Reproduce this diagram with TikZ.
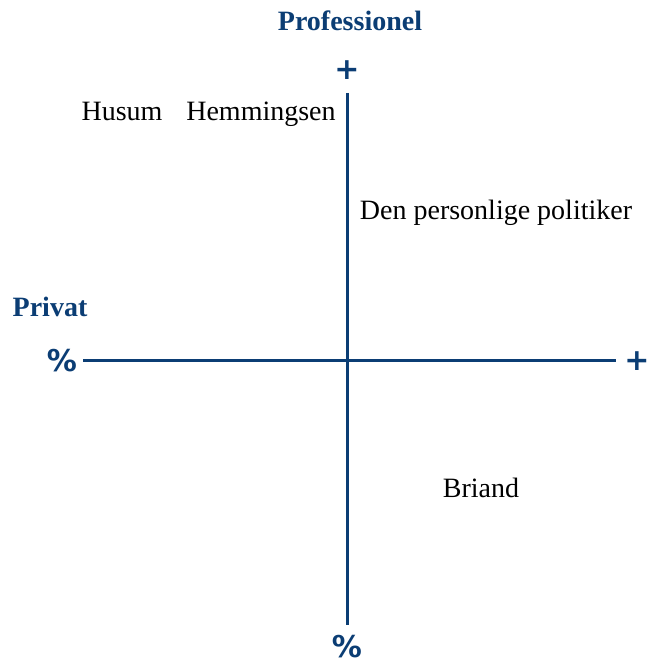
\documentclass[tikz,border=0pt]{standalone}
\usepackage{fontspec}
\setmainfont{Liberation Serif}
\newfontfamily\signfont{DejaVu Sans}
\usetikzlibrary{positioning}
\definecolor{axisblue}{HTML}{0B3D74}
\tikzset{
    axisline/.style   = {draw=axisblue, line width=1.5pt},
    axissign/.style   = {text=axisblue, font=\signfont\bfseries\fontsize{15}{15}\selectfont, inner sep=0pt},
    axistitle/.style  = {text=axisblue, font=\bfseries\fontsize{14}{16}\selectfont, anchor=base, inner sep=0pt},
    politician/.style = {font=\fontsize{14}{16}\selectfont, anchor=base, inner sep=0pt}
}

\begin{document}
\begin{tikzpicture}[x=0.5pt,y=-0.5pt]
          \useasboundingbox (0,0) rectangle (648,663);

          % the two axes
          \begin{scope}
            \coordinate (top)    at (347,93);
            \coordinate (bottom) at (347,625);
            \coordinate (left)   at (83,360);
            \coordinate (right)  at (616,360);
            \draw[axisline] (top)--(bottom);
            \draw[axisline] (left)--(right);
          \end{scope}

          % signs at the axis ends
          \begin{scope}
            \node[axissign](ptop)   at (347,70)  {+};
            \node[axissign](pright) at (637,361) {+};
            \node[axissign](mleft)  at (62,361)  {\%};
            \node[axissign](mbottom)at (347,647) {\%};
          \end{scope}

          % axis titles
          \node[axistitle](prof) at (350,31)  {Professionel};
          \node[axistitle](priv) at (50,316)  {Privat};

          % politicians
          \begin{scope}
            \node[politician](husum)   at (122,121) {Husum};
            \node[politician](hemm)    at (261,121) {Hemmingsen};
            \node[politician](person)  at (496,220) {Den personlige politiker};
            \node[politician](briand)  at (481,497) {Briand};
          \end{scope}
        \end{tikzpicture}
\end{document}
